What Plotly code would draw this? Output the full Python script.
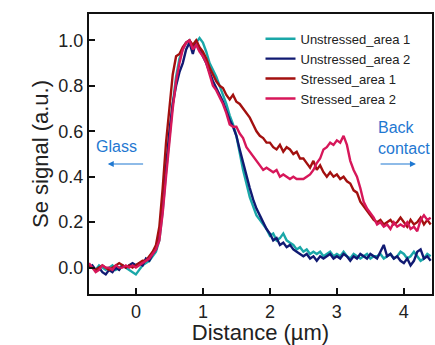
import plotly.graph_objects as go

# Distance sampling (µm)
distance = [round(-0.70 + 0.05 * i, 2) for i in range(103)]

unstressed_area_1 = [
    0.01, 0.00, -0.01, 0.01, 0.00, -0.01, 0.00, 0.01, -0.01, 0.00, 0.01, 0.00, -0.01, -0.02,
    -0.03, -0.01, 0.01, 0.02, 0.03, 0.05, 0.07, 0.12, 0.25, 0.42,
    0.58, 0.72, 0.84, 0.92, 0.96, 0.99, 1.00, 0.97, 0.99, 1.01,
    0.99, 0.95, 0.90, 0.87, 0.84, 0.80, 0.76, 0.72, 0.67, 0.63,
    0.58, 0.50, 0.43, 0.37, 0.31, 0.27, 0.23, 0.21, 0.19, 0.17,
    0.14, 0.15, 0.12, 0.13, 0.15, 0.12, 0.11, 0.10, 0.08, 0.09,
    0.07, 0.08, 0.06, 0.07, 0.06, 0.07, 0.05, 0.06, 0.07, 0.05,
    0.06, 0.05, 0.07, 0.05, 0.04, 0.06, 0.05, 0.04, 0.05, 0.06,
    0.04, 0.05, 0.05, 0.06, 0.04, 0.05, 0.06, 0.04, 0.05, 0.07,
    0.06, 0.04, 0.05, 0.07, 0.05, 0.03, 0.04, 0.06, 0.05,
]

unstressed_area_2 = [
    0.00, 0.01, -0.01, 0.00, -0.02, -0.03, -0.01, -0.02, 0.00, -0.01, 0.01, 0.00, 0.01, 0.02,
    0.01, 0.02, 0.01, 0.04, 0.03, 0.06, 0.08, 0.14, 0.28, 0.45,
    0.60, 0.72, 0.80, 0.86, 0.90, 0.96, 0.99, 0.94, 1.00, 0.96,
    0.93, 0.90, 0.86, 0.82, 0.79, 0.76, 0.73, 0.69, 0.65, 0.62,
    0.58, 0.52, 0.46, 0.41, 0.35, 0.30, 0.26, 0.23, 0.20, 0.17,
    0.15, 0.12, 0.13, 0.10, 0.11, 0.09, 0.10, 0.08, 0.07, 0.06,
    0.05, 0.06, 0.04, 0.05, 0.03, 0.05, 0.04, 0.05, 0.06, 0.04,
    0.05, 0.04, 0.06, 0.05, 0.03, 0.05, 0.04, 0.06, 0.05, 0.04,
    0.06, 0.05, 0.04, 0.07, 0.10, 0.05, 0.06, 0.04, 0.05, 0.03,
    0.02, 0.04, 0.01, 0.03, 0.07, 0.08, 0.04, 0.05, 0.03,
]

stressed_area_1 = [
    0.01, 0.00, -0.01, 0.00, 0.01, 0.00, -0.01, 0.00, 0.01, 0.02, 0.01, 0.00, 0.01, 0.00,
    0.01, 0.02, 0.03, 0.03, 0.05, 0.07, 0.10, 0.18, 0.35, 0.55,
    0.70, 0.85, 0.93, 0.94, 0.97, 0.99, 1.00, 0.98, 1.00, 0.97,
    0.95, 0.92, 0.88, 0.85, 0.82, 0.80, 0.79, 0.76, 0.74, 0.76,
    0.73, 0.72, 0.70, 0.68, 0.66, 0.63, 0.60, 0.58, 0.57, 0.55,
    0.55, 0.53, 0.52, 0.54, 0.51, 0.53, 0.52, 0.50, 0.51, 0.48,
    0.48, 0.46, 0.44, 0.47, 0.43, 0.45, 0.42, 0.40, 0.42, 0.40,
    0.41, 0.39, 0.40, 0.38, 0.37, 0.34, 0.33, 0.29, 0.27, 0.25,
    0.23, 0.21, 0.20, 0.21, 0.19, 0.20, 0.21, 0.19, 0.20, 0.22,
    0.20, 0.18, 0.21, 0.19, 0.20, 0.22, 0.19, 0.21, 0.19,
]

stressed_area_2 = [
    0.02, 0.00, -0.02, -0.01, 0.01, 0.00, 0.00, -0.01, 0.01, 0.00, 0.00, 0.01, 0.00, 0.01,
    0.00, 0.01, 0.02, 0.03, 0.04, 0.06, 0.08, 0.12, 0.24, 0.40,
    0.56, 0.70, 0.82, 0.90, 0.96, 0.99, 1.00, 0.96, 0.98, 0.95,
    0.93, 0.90, 0.85, 0.80, 0.78, 0.75, 0.72, 0.68, 0.63, 0.62,
    0.62, 0.59, 0.57, 0.53, 0.51, 0.49, 0.47, 0.45, 0.43, 0.44,
    0.43, 0.42, 0.43, 0.40, 0.41, 0.40, 0.39, 0.40, 0.39, 0.39,
    0.39, 0.40, 0.41, 0.43, 0.46, 0.48, 0.52, 0.53, 0.55, 0.54,
    0.56, 0.55, 0.58, 0.54, 0.47, 0.43, 0.40, 0.35, 0.29, 0.26,
    0.24, 0.22, 0.19, 0.20, 0.18, 0.19, 0.17, 0.20, 0.18, 0.19,
    0.18, 0.20, 0.17, 0.18, 0.16, 0.21, 0.23, 0.21, 0.22,
]

series_names = ["Unstressed_area 1", "Unstressed_area 2", "Stressed_area 1", "Stressed_area 2"]
series_values = [unstressed_area_1, unstressed_area_2, stressed_area_1, stressed_area_2]
series_colors = ["#1aa7a8", "#101a72", "#a3100f", "#d7175a"]

x_tick_values = [0, 1, 2, 3, 4]
y_tick_values = [0.0, 0.2, 0.4, 0.6, 0.8, 1.0]
y_tick_labels = ["0.0", "0.2", "0.4", "0.6", "0.8", "1.0"]

fig = go.Figure()
for name, vals, col in zip(series_names, series_values, series_colors):
    fig.add_trace(go.Scatter(x=distance, y=vals, mode="lines", name=name,
                             line=dict(color=col, width=2.4)))

font_family = "Liberation Sans, Arial, sans-serif"
text_blue = "#1f78d1"

fig.update_layout(
    width=435, height=345,
    margin=dict(l=89, r=1, t=14, b=51),
    paper_bgcolor="white", plot_bgcolor="white",
    font=dict(family=font_family, color="#222222"),
    showlegend=True,
    legend=dict(x=0.50, y=0.965, xanchor="left", yanchor="top",
                bgcolor="rgba(0,0,0,0)", font=dict(size=13, color="#222222"),
                tracegroupgap=0),
    xaxis=dict(range=[-0.70, 4.42], tickvals=x_tick_values,
               ticks="inside", ticklen=6, tickwidth=2, tickcolor="#111",
               showline=True, linecolor="#111", linewidth=2, mirror=True,
               showgrid=False, zeroline=False,
               tickfont=dict(size=18, color="#222"),
               title=dict(text="Distance (µm)", font=dict(size=22, color="#222"), standoff=5)),
    yaxis=dict(range=[-0.116, 1.116], tickvals=y_tick_values, ticktext=y_tick_labels,
               ticks="inside", ticklen=6, tickwidth=2, tickcolor="#111",
               showline=True, linecolor="#111", linewidth=2, mirror=True,
               showgrid=False, zeroline=False,
               tickfont=dict(size=18, color="#222"),
               title=dict(text="Se signal (a.u.)", font=dict(size=22, color="#222"), standoff=4)),
)

# Text labels and arrows
fig.add_annotation(x=-0.29, y=0.535, xref="x", yref="y", text="Glass", showarrow=False,
                   font=dict(size=16, color=text_blue), xanchor="center", yanchor="middle")
fig.add_annotation(x=-0.42, y=0.456, ax=0.13, ay=0.456, xref="x", yref="y",
                   axref="x", ayref="y", text="", showarrow=True,
                   arrowhead=2, arrowsize=1, arrowwidth=1.2, arrowcolor=text_blue)
fig.add_annotation(x=3.58, y=0.57, xref="x", yref="y", text="Back<br>contact", showarrow=False,
                   font=dict(size=16, color=text_blue), xanchor="left", yanchor="middle", align="left")
fig.add_annotation(x=4.18, y=0.456, ax=3.63, ay=0.456, xref="x", yref="y",
                   axref="x", ayref="y", text="", showarrow=True,
                   arrowhead=2, arrowsize=1, arrowwidth=1.2, arrowcolor=text_blue)

fig.write_html("out.html", config={"displayModeBar": False},
               post_script="document.body.style.margin='0';")
